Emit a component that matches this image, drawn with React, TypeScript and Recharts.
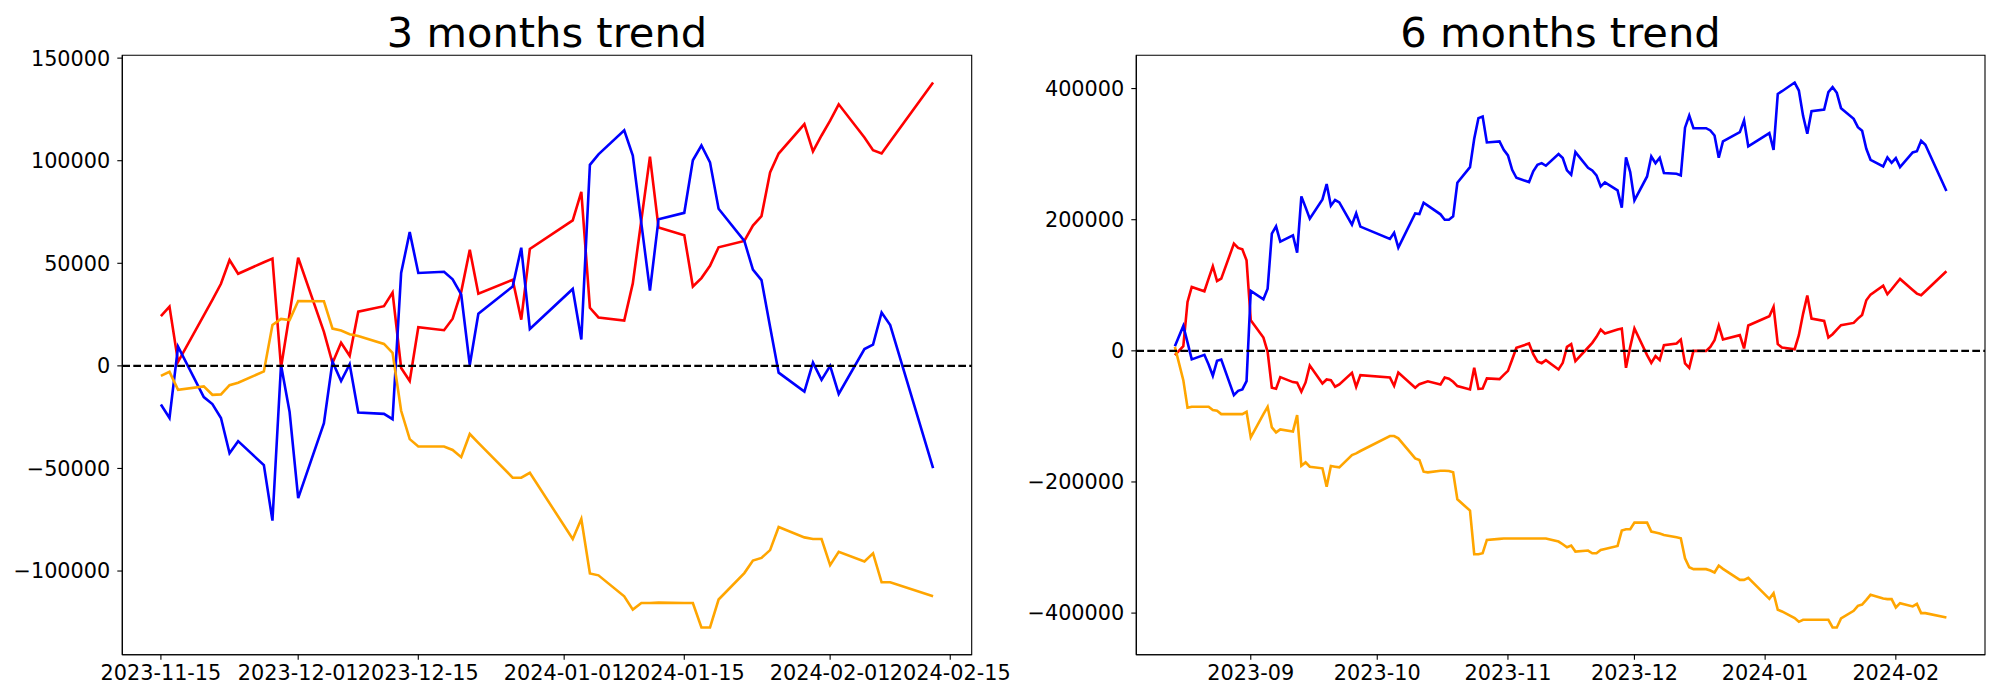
import React from 'react';
import { LineChart, Line, XAxis, YAxis, ReferenceLine, ReferenceArea } from 'recharts';

// ---------- 3 months data ----------
const DATES_3M = [
  '2023-11-15','2023-11-16','2023-11-17','2023-11-20','2023-11-21','2023-11-22','2023-11-23','2023-11-24','2023-11-27','2023-11-28','2023-11-29','2023-11-30',
  '2023-12-01','2023-12-04','2023-12-05','2023-12-06','2023-12-07','2023-12-08','2023-12-11','2023-12-12','2023-12-13','2023-12-14','2023-12-15','2023-12-18','2023-12-19','2023-12-20','2023-12-21','2023-12-22','2023-12-26','2023-12-27','2023-12-28',
  '2024-01-02','2024-01-03','2024-01-04','2024-01-05','2024-01-08','2024-01-09','2024-01-10','2024-01-11','2024-01-12','2024-01-15','2024-01-16','2024-01-17','2024-01-18','2024-01-19','2024-01-22','2024-01-23','2024-01-24','2024-01-25','2024-01-26','2024-01-29','2024-01-30','2024-01-31',
  '2024-02-01','2024-02-02','2024-02-05','2024-02-06','2024-02-07','2024-02-08','2024-02-13',
];
const RED_3M = [
  24200, 28900, 2000, 24600, 32200, 40000, 51600, 44900, 50500, 52300, -800, 25400,
  52700, 16600, 1400, 11300, 4900, 26400, 29100, 35700, -1000, -7400, 18800, 17400, 23000, 36100, 56600, 35200, 42000, 22500, 57000,
  70900, 84800, 28300, 23600, 22100, 40200, 71100, 102000, 67400, 63700, 38700, 42800, 48800, 57800, 60900, 68400, 73000, 94300, 103500, 117800, 104500, 112300,
  119500, 127500, 111300, 105100, 103500, 109400, 138100,
];
const BLUE_3M = [
  -18800, -25400, 9400, -15200, -18600, -25400, -42600, -36700, -48400, -75400, 400, -22500,
  -64500, -27900, 2000, -7400, 800, -22700, -23400, -26000, 45300, 65200, 45300, 45900, 42200, 34800, 400, 25400, 38700, 57600, 18000,
  37500, 12900, 98000, 103100, 114800, 102500, 69300, 36700, 71500, 74600, 100200, 107400, 99200, 76600, 60900, 46900, 41800, 19100, -3300, -12500, 1600, -6800,
  0, -13700, 8200, 10400, 26000, 19900, -49800,
];
const ORANGE_3M = [
  -4900, -2900, -11700, -10000, -14100, -13900, -9400, -8200, -2700, 19900, 22900, 22300,
  31600, 31500, 18200, 17200, 15400, 14600, 10700, 6400, -21900, -35700, -39300, -39300, -41000, -44500, -33200, -37500, -54500, -54500, -52100,
  -84400, -74600, -101200, -102100, -112300, -118800, -115600, -115600, -115400, -115600, -115600, -127500, -127500, -113900, -101000, -94900, -93600, -89800, -78500, -83600, -84400, -84400,
  -97100, -90600, -95300, -91400, -105500, -105500, -112300,
];
const XTICKS_3M = ['2023-11-15', '2023-12-01', '2023-12-15', '2024-01-01', '2024-01-15', '2024-02-01', '2024-02-15'];
const YTICKS_3M = [-100000, -50000, 0, 50000, 100000, 150000];

// ---------- 6 months data ----------
const DATES_6M = [
  '2023-08-14','2023-08-16','2023-08-17','2023-08-18','2023-08-21','2023-08-22','2023-08-23','2023-08-24','2023-08-25','2023-08-28','2023-08-29','2023-08-30','2023-08-31',
  '2023-09-01','2023-09-04','2023-09-05','2023-09-06','2023-09-07','2023-09-08','2023-09-11','2023-09-12','2023-09-13','2023-09-14','2023-09-15','2023-09-18','2023-09-19','2023-09-20','2023-09-21','2023-09-22','2023-09-25','2023-09-26','2023-09-27',
  '2023-10-04','2023-10-05','2023-10-06','2023-10-10','2023-10-11','2023-10-12','2023-10-13','2023-10-16','2023-10-17','2023-10-18','2023-10-19','2023-10-20','2023-10-23','2023-10-24','2023-10-25','2023-10-26','2023-10-27','2023-10-30','2023-10-31',
  '2023-11-01','2023-11-02','2023-11-03','2023-11-06','2023-11-07','2023-11-08','2023-11-09','2023-11-10','2023-11-13','2023-11-14','2023-11-15','2023-11-16','2023-11-17','2023-11-20','2023-11-21','2023-11-22','2023-11-23','2023-11-24','2023-11-27','2023-11-28','2023-11-29','2023-11-30',
  '2023-12-01','2023-12-04','2023-12-05','2023-12-06','2023-12-07','2023-12-08','2023-12-11','2023-12-12','2023-12-13','2023-12-14','2023-12-15','2023-12-18','2023-12-19','2023-12-20','2023-12-21','2023-12-22','2023-12-26','2023-12-27','2023-12-28',
  '2024-01-02','2024-01-03','2024-01-04','2024-01-05','2024-01-08','2024-01-09','2024-01-10','2024-01-11','2024-01-12','2024-01-15','2024-01-16','2024-01-17','2024-01-18','2024-01-19','2024-01-22','2024-01-23','2024-01-24','2024-01-25','2024-01-26','2024-01-29','2024-01-30','2024-01-31',
  '2024-02-01','2024-02-02','2024-02-05','2024-02-06','2024-02-07','2024-02-08','2024-02-13',
];
const BLUE_6M = [
  7000, 38000, 13000, -13000, -6000, -21000, -38000, -15200, -13200, -67500, -61000, -58900, -46200,
  91400, 78700, 94900, 178700, 189900, 166500, 176200, 149800, 235600, 218800, 201600, 231000, 254400, 221400, 230000, 226400, 192400, 209700, 189400,
  170600, 180200, 157400, 209700, 208700, 225900, 221500, 208200, 200000, 200000, 205100, 256400, 280200, 323400, 354900, 357400, 317800, 319300, 306600,
  298000, 276200, 264000, 257400, 273700, 283800, 286300, 282300, 300000, 294000, 275200, 268600, 303100, 279200, 275200, 267600, 250800, 256900, 244700, 218300, 295000, 272600,
  229500, 266000, 296500, 286300, 294500, 271100, 270100, 267600, 340400, 358900, 339600, 339600, 336100, 328500, 294500, 319300, 333600, 351300, 311700,
  332000, 306600, 391900, 396000, 409200, 397000, 358400, 331000, 365500, 368100, 394500, 402100, 393500, 370100, 353900, 341200, 335600, 308200, 291400, 281300, 295000, 286800,
  294000, 280200, 302600, 304600, 320400, 314300, 243700,
];
const RED_6M = [
  -6600, 7100, 74600, 97500, 90900, 110200, 129000, 106600, 110200, 163500, 156900, 154800, 138100,
  46700, 20300, -1500, -56400, -57900, -40100, -47700, -48700, -62400, -48200, -22300, -49800, -43700, -44700, -54800, -51300, -33500, -54800, -37100,
  -40600, -53300, -33000, -56400, -50800, -48700, -46500, -51300, -40600, -42600, -47200, -53800, -58900, -25900, -57900, -57400, -42100, -43200, -36600,
  -30500, -13200, 4600, 11200, -5100, -16200, -18800, -14200, -28400, -18300, 6100, 10200, -15700, 5100, 12200, 21300, 32500, 26400, 32500, 34000, -25900, 6100,
  34000, -6600, -18300, -8100, -14200, 8600, 11200, 17300, -19300, -25900, 0, 0, 6100, 16200, 38600, 17300, 23900, 3600, 38600,
  52800, 67000, 10200, 5100, 2500, 23900, 56400, 84300, 49200, 45700, 20300, 25400, 32500, 39100, 42600, 49200, 54800, 77200, 85800, 99500, 86300, 93900,
  102000, 109700, 92900, 87300, 84800, 90900, 121300,
];
const ORANGE_6M = [
  6000, -44700, -86800, -85300, -85300, -85300, -90400, -91400, -96500, -96500, -96500, -96500, -92900,
  -132000, -96500, -85300, -116800, -124400, -119800, -122900, -98000, -175200, -170100, -176700, -179200, -207100, -175700, -176700, -177700, -158900, -156400, -152800,
  -130000, -130000, -133500, -164000, -166500, -184300, -185300, -182800, -182800, -183300, -185300, -226400, -243700, -310200, -310200, -308700, -288400, -286800, -286300,
  -286300, -286300, -286300, -286300, -286300, -286300, -286300, -286300, -290900, -295000, -299500, -297000, -306100, -304600, -308700, -308700, -303600, -302100, -297500, -274200, -272100, -272100,
  -262000, -262000, -275700, -277200, -278700, -280800, -284300, -285800, -316300, -330000, -333000, -333000, -335100, -338100, -327500, -332500, -349300, -349300, -346300,
  -378200, -369600, -395000, -397500, -407700, -413300, -410200, -410200, -410200, -410200, -410200, -421900, -421900, -408200, -396500, -388900, -386900, -379800, -372100, -377700, -378700, -378700,
  -391400, -384800, -389900, -385900, -400100, -400100, -406700,
];
const XTICKS_6M = ['2023-09-01', '2023-10-01', '2023-11-01', '2023-12-01', '2024-01-01', '2024-02-01'];
const XLABELS_6M = ['2023-09', '2023-10', '2023-11', '2023-12', '2024-01', '2024-02'];
const YTICKS_6M = [-400000, -200000, 0, 200000, 400000];

// ---------- helpers ----------
const FONT = '"DejaVu Sans", sans-serif';
const toDay = (s: string) => {
  const [y, m, d] = s.split('-').map(Number);
  return Date.UTC(y, m - 1, d) / 86400000;
};
const buildRows = (dates: string[], red: number[], blue: number[], orange: number[]) =>
  dates.map((d, i) => ({ t: toDay(d), red: red[i], blue: blue[i], orange: orange[i] }));
const padDomain = (vals: number[]): [number, number] => {
  const lo = Math.min(...vals);
  const hi = Math.max(...vals);
  const m = (hi - lo) * 0.05;
  return [lo - m, hi + m];
};
const fmtY = (v: number) => (v < 0 ? '\u2212' + Math.abs(v) : String(v));

type PanelProps = {
  left: number;
  width: number;
  dates: string[];
  red: number[];
  blue: number[];
  orange: number[];
  xTickDates: string[];
  xTickLabels: string[];
  yTicks: number[];
  yAxisWidth: number;
  marginRight: number;
};

function Panel(p: PanelProps) {
  const rows = buildRows(p.dates, p.red, p.blue, p.orange);
  const xDomain = padDomain(rows.map((r) => r.t));
  const yDomain = padDomain([...p.red, ...p.blue, ...p.orange]);
  const xTicks = p.xTickDates.map(toDay);
  const tickStyle = { fill: '#000', fontSize: 20.8, fontFamily: FONT };
  const lw = 2.6;
  return (
    <div style={{ position: 'absolute', left: p.left, top: 0 }}>
      <LineChart
        width={p.width}
        height={700}
        data={rows}
        margin={{ top: 55.3, right: p.marginRight, bottom: 0, left: 0 }}
      >
        <XAxis
          dataKey="t"
          type="number"
          domain={xDomain}
          allowDataOverflow
          ticks={xTicks}
          interval={0}
          tickFormatter={(v: number) => p.xTickLabels[xTicks.indexOf(v)] ?? ''}
          height={45.3}
          tickSize={5}
          tickMargin={6}
          tick={tickStyle}
          axisLine={{ stroke: '#000', strokeWidth: 1.1 }}
          tickLine={{ stroke: '#000', strokeWidth: 1.1 }}
        />
        <YAxis
          type="number"
          domain={yDomain}
          allowDataOverflow
          ticks={p.yTicks}
          interval={0}
          tickFormatter={fmtY}
          width={p.yAxisWidth}
          tickSize={5}
          tickMargin={7}
          tick={tickStyle}
          axisLine={{ stroke: '#000', strokeWidth: 1.1 }}
          tickLine={{ stroke: '#000', strokeWidth: 1.1 }}
        />
        <ReferenceArea
          x1={xDomain[0]}
          x2={xDomain[1]}
          y1={yDomain[0]}
          y2={yDomain[1]}
          fill="none"
          fillOpacity={0}
          stroke="#000"
          strokeWidth={1.1}
          ifOverflow="visible"
        />
        <Line type="linear" dataKey="red" stroke="#ff0000" strokeWidth={lw} dot={false} activeDot={false} isAnimationActive={false} />
        <Line type="linear" dataKey="blue" stroke="#0000ff" strokeWidth={lw} dot={false} activeDot={false} isAnimationActive={false} />
        <Line type="linear" dataKey="orange" stroke="#ffa500" strokeWidth={lw} dot={false} activeDot={false} isAnimationActive={false} />
        <ReferenceLine y={0} stroke="#000" strokeWidth={2.1} strokeDasharray="7.7 3.3" />
      </LineChart>
    </div>
  );
}

export default function App() {
  return (
    <div style={{ position: 'absolute', left: 0, top: 0, width: 2000, height: 700, background: '#fff' }}>
      <Panel
        left={0}
        width={1100}
        dates={DATES_3M}
        red={RED_3M}
        blue={BLUE_3M}
        orange={ORANGE_3M}
        xTickDates={XTICKS_3M}
        xTickLabels={XTICKS_3M}
        yTicks={YTICKS_3M}
        yAxisWidth={122.3}
        marginRight={128.3}
      />
      <Panel
        left={1000}
        width={1000}
        dates={DATES_6M}
        red={RED_6M}
        blue={BLUE_6M}
        orange={ORANGE_6M}
        xTickDates={XTICKS_6M}
        xTickLabels={XLABELS_6M}
        yTicks={YTICKS_6M}
        yAxisWidth={136.3}
        marginRight={15}
      />
      <svg width={2000} height={700} style={{ position: 'absolute', left: 0, top: 0, pointerEvents: 'none' }}>
        <text x={547} y={47} textAnchor="middle" fontSize={41.6} fontFamily={FONT} fill="#000">
          3 months trend
        </text>
        <text x={1560.5} y={47} textAnchor="middle" fontSize={41.6} fontFamily={FONT} fill="#000">
          6 months trend
        </text>
      </svg>
    </div>
  );
}
